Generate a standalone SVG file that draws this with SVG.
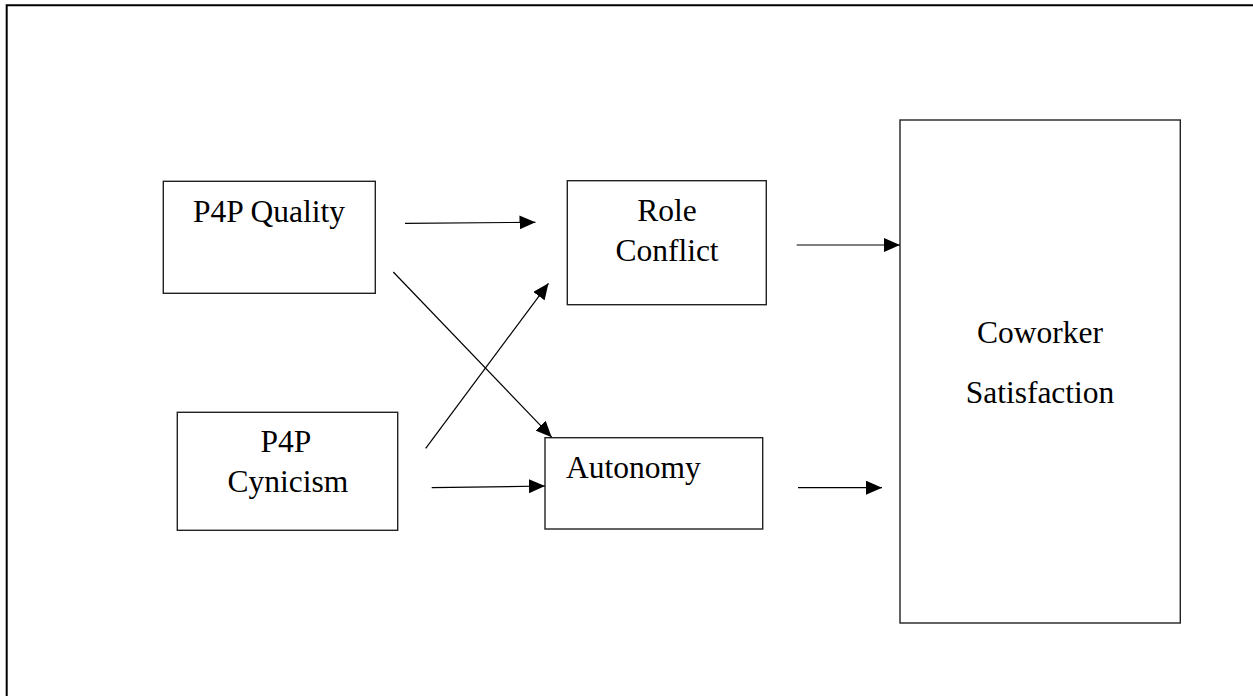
<svg xmlns="http://www.w3.org/2000/svg" width="1253" height="696" viewBox="0 0 1253 696">
  <style>
    .box { fill: #fff; stroke: #222; stroke-width: 1.4; }
    .lbl { font-family: "Liberation Serif", "Times New Roman", serif; font-size: 31.5px; fill: #000; }
    .mid { text-anchor: middle; }
    .edge { stroke: #000; stroke-width: 1.2; fill: none; marker-end: url(#head); }
  </style>
  <defs>
    <marker id="head" viewBox="0 0 16 14" refX="16" refY="7" markerWidth="16" markerHeight="14" markerUnits="userSpaceOnUse" orient="auto">
      <path d="M0,0 L16,7 L0,14 Z" fill="#000"/>
    </marker>
  </defs>
  <rect width="1253" height="696" fill="#fff"/>

  <!-- outer frame (runs off the right and bottom edges) -->
  <path d="M6.7,700 V5.3 H1260" fill="none" stroke="#000" stroke-width="2"/>

  <g id="p4p-quality">
    <rect class="box" x="163.3" y="181.3" width="212" height="112"/>
    <text class="lbl mid" x="269" y="221.7">P4P Quality</text>
  </g>

  <g id="p4p-cynicism">
    <rect class="box" x="177.3" y="412.3" width="220.4" height="118"/>
    <text class="lbl mid" x="286" y="451.7">P4P</text>
    <text class="lbl mid" x="288" y="491.7">Cynicism</text>
  </g>

  <g id="role-conflict">
    <rect class="box" x="567.3" y="180.7" width="199" height="124"/>
    <text class="lbl mid" x="667" y="221">Role</text>
    <text class="lbl mid" x="667" y="261">Conflict</text>
  </g>

  <g id="autonomy">
    <rect class="box" x="545" y="437.7" width="217.7" height="91.3"/>
    <text class="lbl" x="566" y="477.7">Autonomy</text>
  </g>

  <g id="coworker-satisfaction">
    <rect class="box" x="900" y="120" width="280.3" height="503"/>
    <text class="lbl mid" x="1040" y="342.7">Coworker</text>
    <text class="lbl mid" x="1040" y="402.7">Satisfaction</text>
  </g>

  <g id="connectors">
    <line class="edge" x1="405" y1="223.3" x2="535.5" y2="222.3"/>
    <line class="edge" x1="393.3" y1="272" x2="551.7" y2="437.2"/>
    <line class="edge" x1="425.7" y1="448.3" x2="548.5" y2="283.3"/>
    <line class="edge" x1="431.7" y1="487.7" x2="545" y2="486"/>
    <line class="edge" x1="796.7" y1="245" x2="900" y2="245"/>
    <line class="edge" x1="798" y1="487.7" x2="882" y2="487.7"/>
  </g>
</svg>
